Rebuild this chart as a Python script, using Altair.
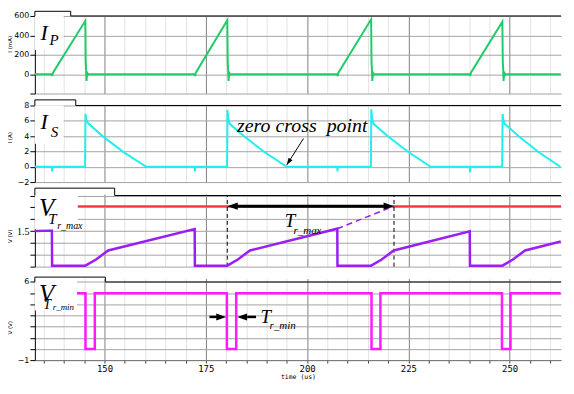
import altair as alt
import pandas as pd

# ---------------- data ----------------
T_MIN, T_MAX = 132.8, 262.68

# primary current I_P (mA)
ip_t = [132.8, 137.0, 137.1, 137.25, 145.26, 145.35, 145.45, 145.55, 145.7, 145.85, 146.0,
        172.25, 172.35, 172.5, 180.3, 180.4, 180.5, 180.6, 180.75, 180.9, 181.05,
        207.45, 207.55, 207.7, 215.8, 215.9, 216.0, 216.1, 216.25, 216.4, 216.55,
        240.15, 240.25, 240.4, 248.2, 248.3, 248.4, 248.5, 248.65, 248.8, 248.95, 262.6]
ip_v = [0, 0, -20, 12, 550, 130, 50, -70, 25, -10, 0,
        0, -20, 12, 555, 130, 50, -70, 25, -10, 0,
        0, -20, 12, 565, 130, 50, -70, 25, -10, 0,
        0, -20, 12, 540, 130, 50, -70, 25, -10, 0, 0]

# secondary current I_S (A)
is_t = [132.8, 137.0, 137.06, 137.15, 145.2, 145.3, 145.5, 145.9, 149.5, 154.6, 160.3,
        172.25, 172.3, 172.4, 180.25, 180.35, 180.55, 180.9, 184.5, 189.45, 195.0,
        207.45, 207.5, 207.6, 215.75, 215.85, 216.05, 216.4, 220.0, 225.0, 230.5,
        240.15, 240.2, 240.3, 248.15, 248.25, 248.45, 248.8, 252.3, 257.1, 262.5, 262.6]
is_v = [0, 0, -0.6, 0, 0, 6.9, 6.2, 5.7, 4.0, 1.95, 0,
        0, -0.6, 0, 0, 7.4, 6.3, 5.6, 3.96, 1.92, 0,
        0, -0.6, 0, 0, 7.5, 6.3, 5.6, 3.96, 1.92, 0,
        0, -0.7, 0, 0, 6.9, 6.1, 5.6, 3.96, 1.92, 0, 0]

# V_Tr_max ramp (V)
vmax_t = [132.8, 137.0, 137.06, 145.26, 147.9, 150.9, 172.25, 172.3, 180.3, 182.9, 185.9,
          207.45, 207.5, 215.8, 218.4, 221.4, 240.15, 240.2, 248.2, 250.8, 253.8, 262.6]
vmax_v = [1.50, 1.52, 0.04, 0.04, 0.30, 0.68, 1.58, 0.04, 0.04, 0.30, 0.68,
          1.60, 0.04, 0.04, 0.30, 0.68, 1.49, 0.04, 0.04, 0.30, 0.68, 1.06]
vmax_ref = [2.55]
ext_t = [207.45, 221.45]
ext_v = [1.60, 2.55]
tr_max_t = [180.3, 221.45]

# V_Tr_min pulses (V)
vmin_t = [132.8, 145.3, 145.3, 147.6, 147.6, 180.2, 180.2, 182.5, 182.5,
          215.9, 215.9, 218.1, 218.1, 248.1, 248.1, 250.2, 250.2, 262.6]
vmin_v = [5, 5, 0, 0, 5, 5, 0, 0, 5, 5, 0, 0, 5, 5, 0, 0, 5, 5]

# ---------------- styling ----------------
GREEN, CYAN, PURPLE, RED, MAGENTA = "#1fcc6a", "#22eeee", "#9a1ff0", "#f23a3a", "#ff1aff"
GRID_MINOR, GRID_MAJOR, GRID_H = "#e3e3e3", "#808080", "#a3a3a3"
SERIF = "Liberation Serif"
xgrid_color = {"condition": {"test": "datum.value % 25 === 0", "value": GRID_MAJOR},
               "value": GRID_MINOR}
x_vals = list(range(135, 265, 5))
W = 529
HEAD_R = "M0,0L-2,-0.7L-2,0.7Z"
HEAD_L = "M0,0L2,-0.7L2,0.7Z"
HEAD_UP = "M0,0L-0.8,2.4L0.8,2.4Z"


def df(t, v):
    return pd.DataFrame({"t": t, "v": v, "i": list(range(len(t)))})


def x_enc(bottom):
    if bottom:
        ax = alt.Axis(values=x_vals, labelExpr="datum.value % 25 === 0 ? datum.label : ''",
                      grid=True, gridColor=xgrid_color, gridWidth=1, domainColor="#777777",
                      tickColor="#444444", tickSize=3, labelFont="DejaVu Sans Mono",
                      labelFontSize=9, labelColor="black", labelPadding=1,
                      labelOverlap=False, labelFlush=False, titleFont="DejaVu Sans Mono",
                      titleFontSize=6.5, titleFontWeight="normal", titleColor="black",
                      titlePadding=0)
        return alt.X("t:Q", title="time (us)",
                     scale=alt.Scale(domain=[T_MIN, T_MAX], nice=False, zero=False), axis=ax)
    ax = alt.Axis(values=x_vals, labels=False, ticks=False, domain=False, grid=True,
                  gridColor=xgrid_color, gridWidth=1)
    return alt.X("t:Q", title=None,
                 scale=alt.Scale(domain=[T_MIN, T_MAX], nice=False, zero=False), axis=ax)


def y_enc(dom, vals, lexpr, title, ty, lfont="DejaVu Sans", lsize=8):
    ax = alt.Axis(values=vals, labelExpr=lexpr, grid=True, gridColor=GRID_H, gridWidth=1,
                  domainColor="black", tickColor="black", tickSize=5, labelFont=lfont,
                  labelFontSize=lsize, labelColor="black", labelPadding=1, labelOverlap=False,
                  labelFlush=False, titleFont="DejaVu Sans", titleFontSize=5.5,
                  titleFontWeight="normal", titleColor="black", titlePadding=2, titleY=ty,
                  minExtent=20, maxExtent=20)
    return alt.Y("v:Q", title=title,
                 scale=alt.Scale(domain=dom, nice=False, zero=False), axis=ax)


def make_panel(X, Y, height, waves, box, texts, tab, extra=()):
    layers = []
    for w in waves:
        layers.append(w.encode(x=X, y=Y, order=alt.Order("i:Q")))
    for e in extra:
        layers.append(e(X, Y))
    bx = pd.DataFrame({"t": [box[0]], "t2": [box[1]], "v": [box[2]], "v2": [box[3]]})
    layers.append(alt.Chart(bx).mark_rect(color="white", opacity=1).encode(
        x=X, x2="t2", y=Y, y2="v2"))
    td = pd.DataFrame({"t": [a[0] for a in texts], "v": [a[1] for a in texts],
                       "s": [a[2] for a in texts], "fs": [a[3] for a in texts]})
    layers.append(alt.Chart(td).mark_text(align="left", baseline="alphabetic", font=SERIF,
                                          fontStyle="italic", color="black").encode(
        x=X, y=Y, text="s:N", size=alt.Size("fs:Q", scale=None, legend=None)))
    layers.append(alt.Chart(df(tab[0], tab[1])).mark_line(color="black", strokeWidth=1).encode(
        x=X, y=Y, order=alt.Order("i:Q")))
    return alt.layer(*layers).properties(width=W, height=height)


# ---------- panel 1 : I_P ----------
X1 = x_enc(False)
Y1 = y_enc([-200, 600], [-200, 0, 200, 400, 600],
           "datum.value === -200 ? '' : datum.label", "I (mA)", 28)
p1 = make_panel(
    X1, Y1, 78,
    [alt.Chart(df(ip_t, ip_v)).mark_line(color=GREEN, strokeWidth=2)],
    (T_MIN, 139.9, 250, 600),
    [(134.2, 357, "I", 22), (136.4, 299, "P", 15)],
    ([T_MIN, T_MIN, 141.65, 141.65, T_MAX], [600, 648, 648, 600, 600]))

# ---------- panel 2 : I_S ----------
X2 = x_enc(False)
Y2 = y_enc([-2, 8], [-2, 0, 2, 4, 6, 8], "datum.label", "I (A)", 32)


def zc_arrow(X, Y):
    d = df([199.1, 195.0], [3.68, 0.25])
    ln = alt.Chart(d).mark_line(color="black", strokeWidth=1).encode(
        x=X, y=Y, order=alt.Order("i:Q"))
    hd = alt.Chart(d.iloc[[1]]).mark_point(shape=HEAD_UP, filled=True, size=34, angle=212,
                                           color="black", opacity=1, strokeWidth=0).encode(
        x=X, y=Y)
    return alt.layer(ln, hd)


p2 = make_panel(
    X2, Y2, 77,
    [alt.Chart(df(is_t, is_v)).mark_line(color=CYAN, strokeWidth=2)],
    (T_MIN, 139.9, 3.0, 8),
    [(134.2, 4.97, "I", 22), (136.7, 3.88, "S", 15),
     (182.7, 4.56, "zero cross\u00a0 point", 20)],
    ([T_MIN, T_MIN, 142.9, 142.9, T_MAX], [8, 8.73, 8.73, 8, 8]),
    extra=[zc_arrow])

# ---------- panel 3 : V_Tr_max ----------
X3 = x_enc(False)
Y3 = y_enc([0, 3.063], [0, 0.5, 1.0, 1.5, 2.0, 2.5, 3.0],
           "datum.value === 1.5 ? '1.5' : ''", "V (V)", 42, lfont=SERIF, lsize=10)


def p3_marks(X, Y):
    red = alt.Chart(pd.DataFrame({"v": vmax_ref})).mark_rule(color=RED, strokeWidth=2).encode(y=Y)
    dash = alt.Chart(df(ext_t, ext_v)).mark_line(color=PURPLE, strokeWidth=1.5,
                                                 strokeDash=[6, 4]).encode(
        x=X, y=Y, order=alt.Order("i:Q"))
    vl = alt.Chart(pd.DataFrame({"t": tr_max_t, "v": [0, 0], "v2": [3.0, 3.0]})).mark_rule(
        color="black", strokeWidth=1, strokeDash=[4, 3]).encode(x=X, y=Y, y2="v2")
    shaft = alt.Chart(df([182.3, 219.45], [2.55, 2.55])).mark_line(
        color="black", strokeWidth=3).encode(x=X, y=Y, order=alt.Order("i:Q"))
    hl = alt.Chart(pd.DataFrame({"t": [tr_max_t[0]], "v": [2.55]})).mark_point(
        shape=HEAD_L, filled=True, size=110, color="black", opacity=1, strokeWidth=0).encode(x=X, y=Y)
    hr = alt.Chart(pd.DataFrame({"t": [tr_max_t[1]], "v": [2.55]})).mark_point(
        shape=HEAD_R, filled=True, size=110, color="black", opacity=1, strokeWidth=0).encode(x=X, y=Y)
    return alt.layer(red, dash, vl, shaft, hl, hr)


def p3_wave(X, Y):
    return alt.Chart(df(vmax_t, vmax_v)).mark_line(color=PURPLE, strokeWidth=2.5).encode(
        x=X, y=Y, order=alt.Order("i:Q"))


p3 = make_panel(
    X3, Y3, 73, [],
    (T_MIN, 143.4, 1.58, 3.063),
    [(133.8, 2.154, "V", 25), (136.1, 1.78, "T", 15), (138.3, 1.57, "r_max", 10),
     (194.5, 1.667, "T", 19), (196.65, 1.375, "r_max", 11)],
    ([T_MIN, T_MIN, 152.5, 152.5, T_MAX], [3.0, 3.31, 3.31, 3.0, 3.0]),
    extra=[p3_marks, p3_wave])

# ---------- panel 4 : V_Tr_min ----------
X4 = x_enc(True)
Y4 = y_enc([-1, 6.31], [-1, 0, 1, 2, 3, 4, 5, 6],
           "(datum.value === 6 || datum.value === -1) ? datum.label : ''", "V (V)", 49)


def p4_marks(X, Y):
    sh = alt.Chart(pd.DataFrame({"t": [175.9, 185.2], "t2": [178.0, 187.4],
                                 "v": [2.87, 2.87]})).mark_rule(
        color="black", strokeWidth=2.5).encode(x=X, x2="t2", y=Y)
    hr = alt.Chart(pd.DataFrame({"t": [180.03], "v": [2.87]})).mark_point(
        shape=HEAD_R, filled=True, size=100, color="black", opacity=1, strokeWidth=0).encode(x=X, y=Y)
    hl = alt.Chart(pd.DataFrame({"t": [182.73], "v": [2.87]})).mark_point(
        shape=HEAD_L, filled=True, size=100, color="black", opacity=1, strokeWidth=0).encode(x=X, y=Y)
    return alt.layer(sh, hr, hl)


p4 = make_panel(
    X4, Y4, 82,
    [alt.Chart(df(vmin_t, vmin_v)).mark_line(color=MAGENTA, strokeWidth=2.5)],
    (T_MIN, 143.2, 3.45, 6.31),
    [(133.8, 4.17, "V", 25), (134.9, 3.55, "T", 14), (137.2, 3.5, "r_min", 9),
     (188.5, 2.34, "T", 19), (190.75, 1.75, "r_min", 11)],
    ([T_MIN, T_MIN, 150.2, 150.2, T_MAX], [6, 6.44, 6.44, 6, 6]),
    extra=[p4_marks])

chart = alt.vconcat(p1, p2, p3, p4, spacing=12, bounds="flush").configure_view(
    stroke=None).properties(background="white",
                            padding={"left": 0, "top": 0, "right": 0, "bottom": 0})

chart.save("out.html", embed_options={"renderer": "svg", "actions": False})
